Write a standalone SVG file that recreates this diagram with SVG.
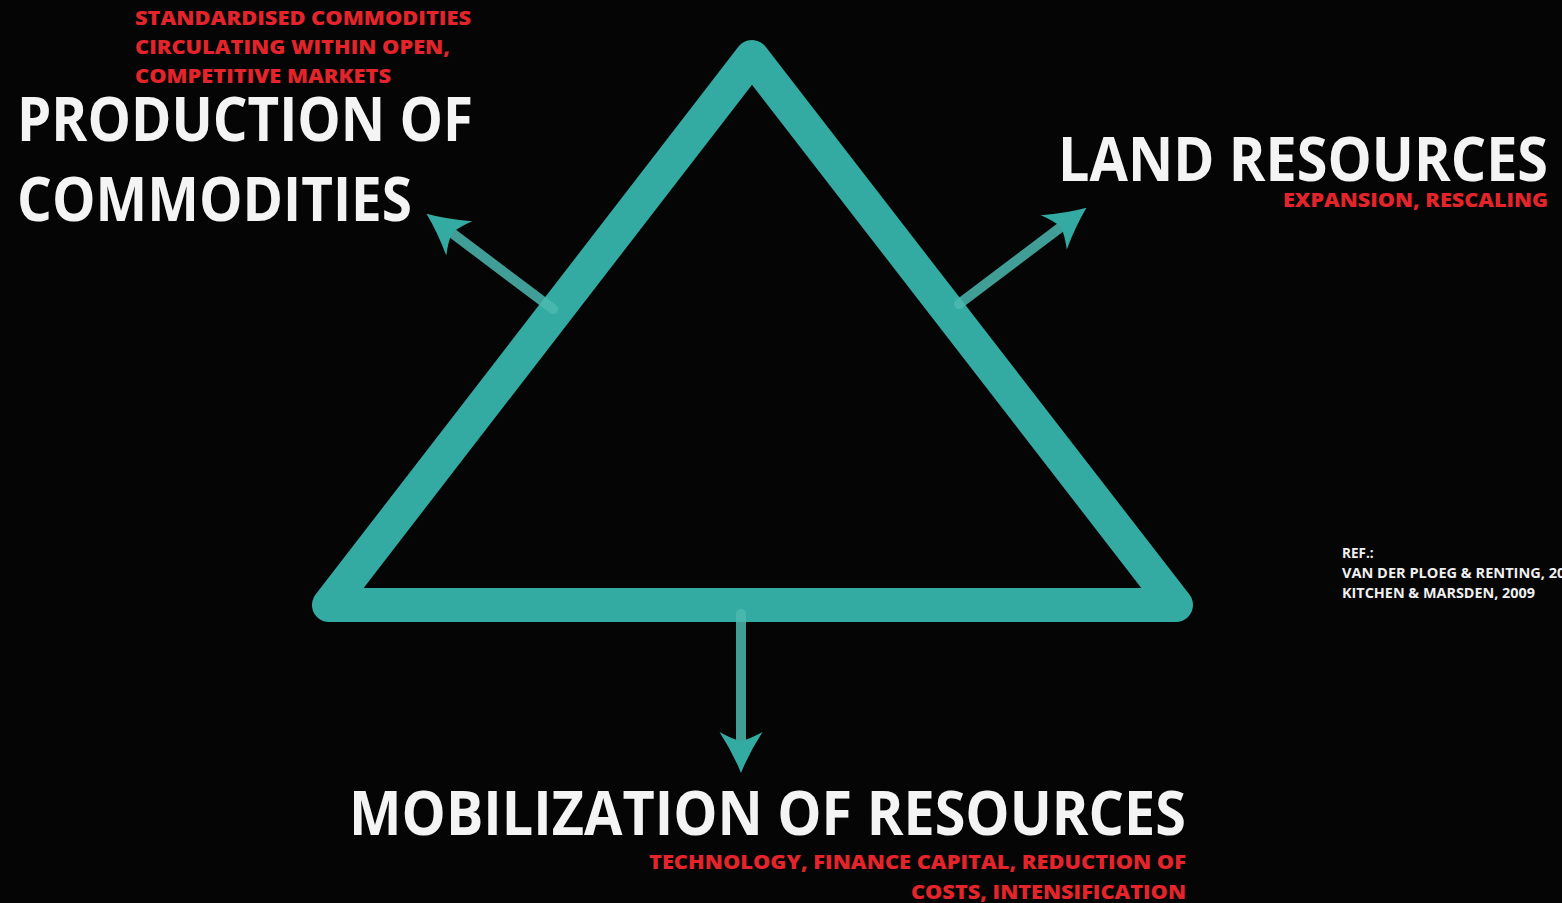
<svg xmlns="http://www.w3.org/2000/svg" width="1562" height="903" viewBox="0 0 1562 903">
<style>
.bg{fill:#050505}
.tri{fill:none;stroke:#33aba3;stroke-width:34;stroke-linejoin:round}
.shaft{stroke:#4cbab2;stroke-opacity:0.85;stroke-width:10;stroke-linecap:round;fill:none}
.head{fill:#33aba3}
.h{font-family:"Open Sans","Liberation Sans",sans-serif;font-weight:700;font-size:61px;fill:#f4f4f4}
.r{font-family:"Open Sans","Liberation Sans",sans-serif;font-weight:800;font-size:20px;fill:#e3242b}
.ref{font-family:"Open Sans","Liberation Sans",sans-serif;font-weight:700;font-size:13.5px;fill:#f0f0f0}
</style>
<defs>
<marker id="ah" markerUnits="userSpaceOnUse" viewBox="-12 -23 46 46" markerWidth="46" markerHeight="46" refX="0" refY="0" orient="auto">
<path class="head" d="M32,0 Q12,-8 -9,-21.5 Q-2,-9 0,0 Q-2,9 -9,21.5 Q12,8 32,0 Z"/>
</marker>
</defs>
<rect class="bg" x="0" y="0" width="1562" height="903"/>
<g id="triangle">
<polygon class="tri" points="752,57 329,605 1176,605"/>
</g>
<g id="connectors">
<line class="shaft" x1="553" y1="309" x2="452" y2="233" marker-end="url(#ah)"/>
<line class="shaft" x1="959" y1="304" x2="1061" y2="227" marker-end="url(#ah)"/>
<line class="shaft" x1="741" y1="614" x2="741" y2="741" marker-end="url(#ah)"/>
</g>
<g id="node-production">
<text class="r" x="135" y="25" textLength="336" lengthAdjust="spacingAndGlyphs">STANDARDISED COMMODITIES</text>
<text class="r" x="135" y="54" textLength="315" lengthAdjust="spacingAndGlyphs">CIRCULATING WITHIN OPEN,</text>
<text class="r" x="135" y="83" textLength="256" lengthAdjust="spacingAndGlyphs">COMPETITIVE MARKETS</text>
<text class="h" x="17" y="141" textLength="456" lengthAdjust="spacingAndGlyphs">PRODUCTION OF</text>
<text class="h" x="17" y="221" textLength="395" lengthAdjust="spacingAndGlyphs">COMMODITIES</text>
</g>
<g id="node-land">
<text class="h" x="1058" y="181" textLength="490" lengthAdjust="spacingAndGlyphs">LAND RESOURCES</text>
<text class="r" x="1283" y="207" textLength="265" lengthAdjust="spacingAndGlyphs">EXPANSION, RESCALING</text>
</g>
<g id="node-mobilization">
<text class="h" x="349" y="835" textLength="837" lengthAdjust="spacingAndGlyphs">MOBILIZATION OF RESOURCES</text>
<text class="r" x="649" y="869" textLength="537" lengthAdjust="spacingAndGlyphs">TECHNOLOGY, FINANCE CAPITAL, REDUCTION OF</text>
<text class="r" x="911" y="899" textLength="275" lengthAdjust="spacingAndGlyphs">COSTS, INTENSIFICATION</text>
</g>
<g id="reference">
<text class="ref" x="1342" y="558">REF.:</text>
<text class="ref" x="1342" y="578" textLength="240" lengthAdjust="spacingAndGlyphs">VAN DER PLOEG &amp; RENTING, 2004</text>
<text class="ref" x="1342" y="598" textLength="193" lengthAdjust="spacingAndGlyphs">KITCHEN &amp; MARSDEN, 2009</text>
</g>
</svg>
